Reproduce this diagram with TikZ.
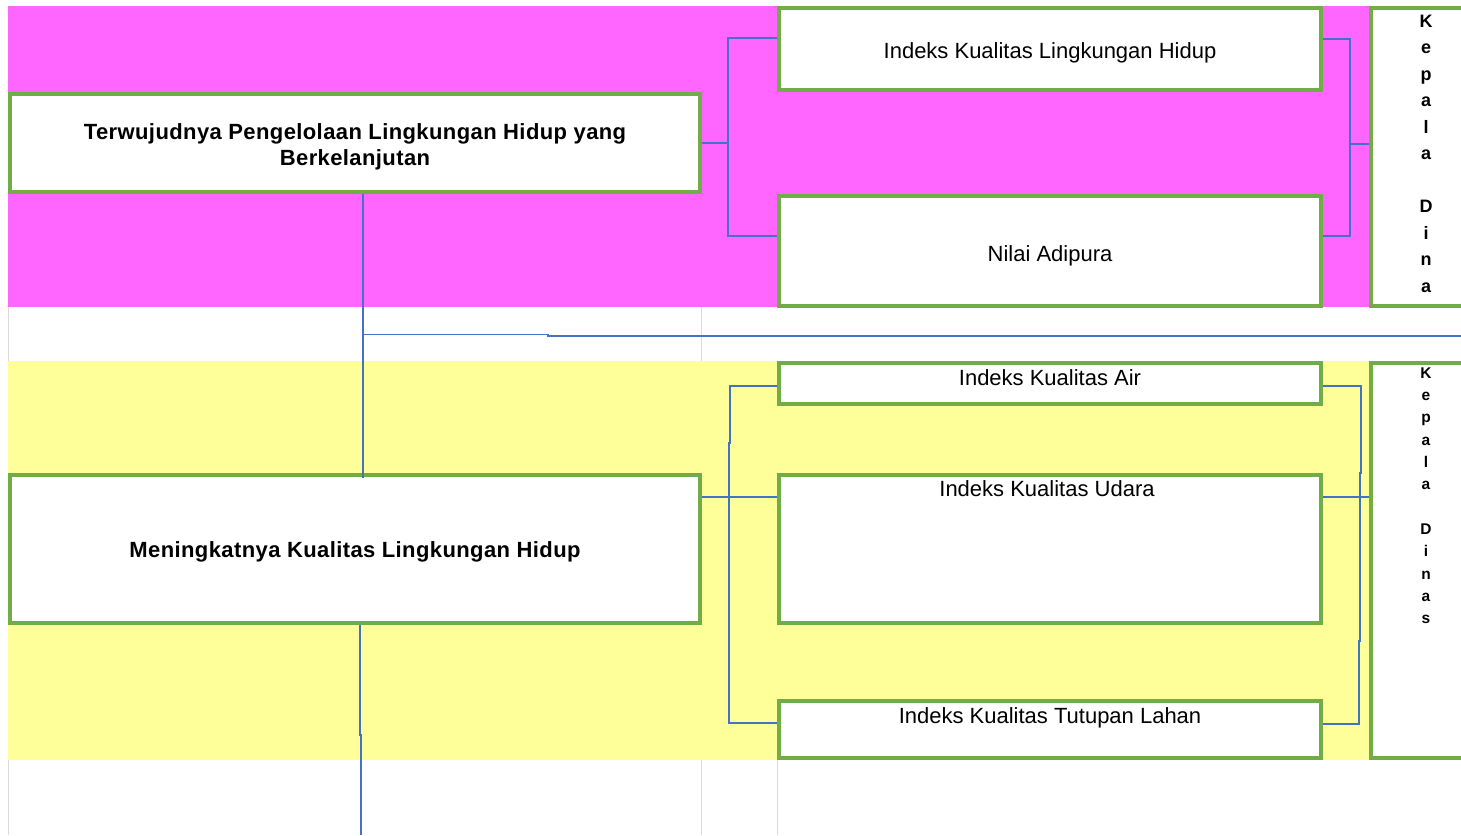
\documentclass[tikz,border=0pt]{standalone}
\usepackage{fontspec}
\setmainfont{Liberation Sans}
\newfontfamily\titlefont[LetterSpace=1.8]{Liberation Sans}
\definecolor{boxgreen}{RGB}{112,173,71}
\definecolor{connblue}{RGB}{68,114,196}
\definecolor{bandmag}{RGB}{255,102,255}
\definecolor{bandyel}{RGB}{255,255,153}
\definecolor{gridgray}{RGB}{218,218,218}
\begin{document}
\begin{tikzpicture}[x=1pt,y=-1pt,
  box/.style={draw=boxgreen, line width=4pt, fill=white, inner sep=0pt, anchor=center},
  titletxt/.style={font=\titlefont\fontsize{22}{26}\selectfont\bfseries, align=center, text=black, inner sep=0pt},
  normtxt/.style={font=\fontsize{22}{26}\selectfont, text=black, inner sep=0pt},
  vtxtA/.style={font=\fontsize{18}{26.5}\selectfont\bfseries, align=center, inner sep=0pt, anchor=north},
  vtxtB/.style={font=\fontsize{15.5}{22.3}\selectfont\bfseries, align=center, inner sep=0pt, anchor=north},
  conn/.style={draw=connblue, line width=1.1pt},
  gridline/.style={draw=gridgray, line width=0.8pt}]
\useasboundingbox (0,0) rectangle (1461,835);
\clip (0,0) rectangle (1461,835);
\fill[white] (0,0) rectangle (1461,835);
% bands
\fill[bandmag] (8,6) rectangle (1370,307);
\fill[bandyel] (8,361) rectangle (1370,760);
% grid lines in the white gaps
\draw[gridline] (8,307) -- (8,361);
\draw[gridline] (701,307) -- (701,361);
\draw[gridline] (8,760) -- (8,835);
\draw[gridline] (701,760) -- (701,835);
\draw[gridline] (777,760) -- (777,835);
% boxes, upper band
\node[box, minimum width=690pt, minimum height=98pt] (b1) at (355,143) {};
\node[titletxt] (b1t) at (355,147) {Terwujudnya Pengelolaan Lingkungan Hidup yang\\Berkelanjutan};
\node[box, minimum width=542pt, minimum height=82pt] (iklh) at (1050,49) {};
\node[normtxt] (iklht) at (1050,53) {Indeks Kualitas Lingkungan Hidup};
\node[box, minimum width=542pt, minimum height=110pt] (nilai) at (1050,251) {};
\node[normtxt] (nilait) at (1050,256) {Nilai Adipura};
\node[box, minimum width=110pt, minimum height=298pt] (kep1) at (1426,157) {};
\node[vtxtA] (kep1t) at (1426,14.5) {K\\e\\p\\a\\l\\a\\[26.5pt]D\\i\\n\\a};
% boxes, lower band
\node[box, minimum width=690pt, minimum height=148pt] (b2) at (355,549) {};
\node[titletxt] (b2t) at (355,552) {Meningkatnya Kualitas Lingkungan Hidup};
\node[box, minimum width=542pt, minimum height=41pt] (ika) at (1050,383.5) {};
\node[normtxt, anchor=base] (ikat) at (1050,385) {Indeks Kualitas Air};
\node[box, minimum width=542pt, minimum height=148pt] (iku) at (1050,549) {};
\node[normtxt, anchor=base] (ikut) at (1047,496) {Indeks Kualitas Udara};
\node[box, minimum width=542pt, minimum height=57pt] (iktl) at (1050,729.5) {};
\node[normtxt, anchor=base] (iktlt) at (1050,723) {Indeks Kualitas Tutupan Lahan};
\node[box, minimum width=110pt, minimum height=395pt] (kep2) at (1426,560.5) {};
\node[vtxtB] (kep2t) at (1426,367.5) {K\\e\\p\\a\\l\\a\\[22.3pt]D\\i\\n\\a\\s};
% coordinates for connector bends
\coordinate (ya) at (0,38);
\coordinate (yb) at (0,236);
\coordinate (yc) at (0,386);
\coordinate (yd) at (0,723);
\coordinate (ye) at (0,497);
\coordinate (edge) at (1461,336);
% upper connectors
\draw[conn] (b1.east) -- (728,143);
\draw[conn] (iklh.west |- ya) -- (728,38) -- (728,236) -- (nilai.west |- yb);
\draw[conn] (iklh.east |- {0,39}) -- (1350,39) -- (1350,236) -- (nilai.east |- yb);
\draw[conn] (1350,144) -- (kep1.west |- {0,144});
% link between the two goals
\draw[conn] (b1.south -| {363,0}) -- (363,478);
\draw[conn] (363,334.7) -- (548,334.7) -- (548,336) -- (edge);
% lower connectors
\draw[conn] (b2.east |- ye) -- (ika.west |- ye);
\draw[conn] (ika.west |- yc) -- (730,386) -- (730,443) -- (729,443) -- (729,723) -- (iktl.west |- yd);
\draw[conn] (ika.east |- yc) -- (1361,386) -- (1361,473) -- (1360,473) -- (1360,641) -- (1359,641) -- (1359,724) -- (iktl.east |- {0,724});
\draw[conn] (iku.east |- ye) -- (kep2.west |- ye);
\coordinate (bottom) at (361,835);
\draw[conn] (b2.south -| {360,0}) -- (360,735) -- (361,735) -- (bottom);
\end{tikzpicture}
\end{document}
